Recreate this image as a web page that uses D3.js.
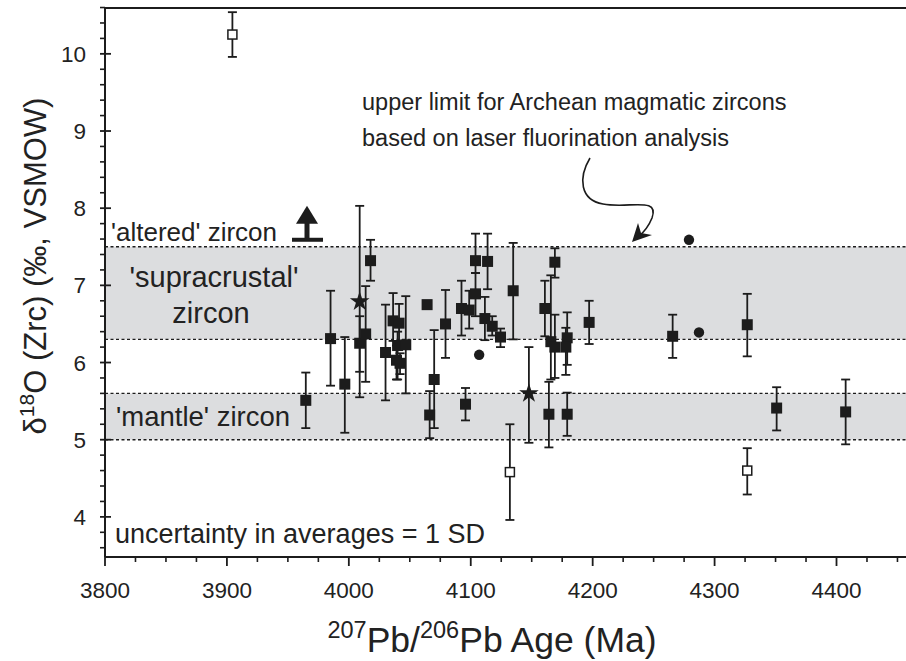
<!DOCTYPE html>
<html>
<head>
<meta charset="utf-8">
<script src="https://cdn.jsdelivr.net/npm/d3@7"></script>
<style>
  body { margin: 0; background: #fff; }
  svg text { font-family: "Liberation Sans", Arial, sans-serif; fill: #222; }
</style>
</head>
<body>
<div id="chart"></div>
<script>
// ---- data (age in Ma, d18O, +err top, -err bottom) ----
const squareAge = [3964.7, 3985, 3996.7, 4008.9, 4013.8, 4017.8, 4030.1, 4036.3, 4041.2, 4040, 4046.7, 4039.1, 4042,
  4064.2, 4079.3, 4070, 4066.3, 4095.7, 4092.4, 4098.7, 4103.9, 4103.9, 4113.8, 4111.6, 4117.6, 4124.4, 4134.8,
  4160.8, 4169, 4165.7, 4169, 4179.1, 4178, 4197.1, 4164.1, 4179.1, 4265.6, 4326.8, 4350.9, 4407.5];
const squareD18O = [5.51, 6.31, 5.72, 6.25, 6.37, 7.32, 6.13, 6.54, 6.51, 6.22, 6.23, 6.03, 5.99,
  6.75, 6.50, 5.78, 5.32, 5.46, 6.70, 6.68, 7.32, 6.89, 7.31, 6.57, 6.47, 6.33, 6.93,
  6.70, 7.30, 6.27, 6.20, 6.32, 6.20, 6.52, 5.33, 5.33, 6.34, 6.49, 5.41, 5.36];
const squareHi = [5.87, 6.93, 6.33, 6.60, 6.99, 7.59, 6.75, 6.90, 6.76, 6.40, 6.86, 6.22, 6.12,
  6.80, 6.94, 6.42, 5.63, 5.67, 7.06, 6.93, 7.67, 7.16, 7.67, 6.85, 6.60, 6.44, 7.55,
  7.06, 7.48, 7.13, 6.62, 6.65, 6.45, 6.80, 5.75, 5.61, 6.62, 6.89, 5.68, 5.78];
const squareLo = [5.15, 5.70, 5.09, 5.88, 5.75, 7.06, 5.51, 6.28, 6.22, 5.78, 5.60, 5.78, 5.85,
  6.70, 6.06, 5.15, 5.02, 5.25, 6.35, 6.44, 7.16, 6.60, 6.95, 6.29, 6.35, 6.20, 6.30,
  6.34, 7.10, 5.78, 5.80, 5.97, 5.84, 6.24, 4.90, 5.05, 6.06, 6.08, 5.12, 4.94];

const openAge = [3904.5, 4132.1, 4326.8];
const openD18O = [10.25, 4.58, 4.60];
const openHi = [10.54, 5.20, 4.89];
const openLo = [9.96, 3.96, 4.29];

const starAge = [4008.9, 4147.7];
const starD18O = [6.79, 5.60];
const starHi = [8.03, 6.20];
const starLo = [5.55, 4.96];

const circleAge = [4106.9, 4287.2, 4279];
const circleD18O = [6.10, 6.39, 7.59];

// reference fields
const bands = [{lo: 6.3, hi: 7.5}, {lo: 5.0, hi: 5.6}];
const xTicks = [3800, 3900, 4000, 4100, 4200, 4300, 4400];
const yTicks = [4, 5, 6, 7, 8, 9, 10];

// ---- layout ----
const W = 906, H = 661;
const pLeft = 105, pRight = 906, pTop = 8, pBottom = 557;

const x = d3.scaleLinear().domain([3800, 4457]).range([pLeft, pRight]);
const y = d3.scaleLinear().domain([3.48, 10.594]).range([pBottom, pTop]);

const svg = d3.select("#chart").append("svg")
    .attr("width", W).attr("height", H);

const ink = "#1c1c1c";

// bands
svg.selectAll(".band").data(bands).join("rect")
    .attr("class", "band")
    .attr("x", pLeft + 1).attr("width", pRight - pLeft)
    .attr("y", d => y(d.hi)).attr("height", d => y(d.lo) - y(d.hi))
    .attr("fill", "#dcdddf");

const bandLines = bands.flatMap(d => [d.lo, d.hi]);
svg.selectAll(".bline").data(bandLines).join("line")
    .attr("class", "bline")
    .attr("x1", pLeft).attr("x2", pRight)
    .attr("y1", d => y(d)).attr("y2", d => y(d))
    .attr("stroke", ink).attr("stroke-width", 1.4)
    .attr("stroke-dasharray", "3,2.5");

// axes frame
svg.append("line").attr("x1", pLeft).attr("x2", pLeft).attr("y1", pTop).attr("y2", pBottom)
    .attr("stroke", ink).attr("stroke-width", 2);
svg.append("line").attr("x1", pLeft).attr("x2", pRight).attr("y1", pBottom).attr("y2", pBottom)
    .attr("stroke", ink).attr("stroke-width", 2);
svg.append("line").attr("x1", pLeft).attr("x2", pRight).attr("y1", pTop).attr("y2", pTop)
    .attr("stroke", ink).attr("stroke-width", 2);

// y ticks
const yMinor = d3.range(36, 107, 2).map(v => v / 10).filter(v => !yTicks.includes(v));
svg.selectAll(".ymin").data(yMinor).join("line")
    .attr("x1", pLeft - 5).attr("x2", pLeft)
    .attr("y1", d => y(d)).attr("y2", d => y(d))
    .attr("stroke", ink).attr("stroke-width", 1.6);
svg.selectAll(".ymaj").data(yTicks).join("line")
    .attr("x1", pLeft - 5).attr("x2", pLeft + 6)
    .attr("y1", d => y(d)).attr("y2", d => y(d))
    .attr("stroke", ink).attr("stroke-width", 1.8);
svg.selectAll(".ylab").data(yTicks).join("text")
    .attr("x", pLeft - 19).attr("y", d => y(d)).attr("dy", "0.36em")
    .attr("text-anchor", "end").attr("font-size", 22.5)
    .text(d => d);

// x ticks
const xMinor = d3.range(3825, 4456, 25).filter(v => !xTicks.includes(v));
svg.selectAll(".xmin").data(xMinor).join("line")
    .attr("x1", d => x(d)).attr("x2", d => x(d))
    .attr("y1", pBottom).attr("y2", pBottom + 5)
    .attr("stroke", ink).attr("stroke-width", 1.6);
svg.selectAll(".xmaj").data(xTicks).join("line")
    .attr("x1", d => x(d)).attr("x2", d => x(d))
    .attr("y1", pBottom).attr("y2", pBottom + 9)
    .attr("stroke", ink).attr("stroke-width", 1.8);
svg.selectAll(".xlab").data(xTicks).join("text")
    .attr("x", d => x(d)).attr("y", 598)
    .attr("text-anchor", "middle").attr("font-size", 22.5)
    .text(d => d);

// axis titles
const xt = svg.append("text").attr("x", 492).attr("y", 652)
    .attr("text-anchor", "middle").attr("font-size", 35.5);
xt.append("tspan").attr("font-size", 23.5).attr("dy", -14).text("207");
xt.append("tspan").attr("dy", 14).text("Pb/");
xt.append("tspan").attr("font-size", 23.5).attr("dy", -14).text("206");
xt.append("tspan").attr("dy", 14).text("Pb Age (Ma)");

const yt = svg.append("text")
    .attr("transform", "translate(46," + 266 + ") rotate(-90)")
    .attr("text-anchor", "middle").attr("font-size", 31);
yt.append("tspan").text("δ");
yt.append("tspan").attr("font-size", 21).attr("dy", -12).text("18");
yt.append("tspan").attr("dy", 12).text("O (Zrc) (‰, VSMOW)");

// labels
svg.append("text").attr("x", 111).attr("y", 241).attr("font-size", 26).text("'altered' zircon");
svg.append("text").attr("x", 214).attr("y", 287).attr("text-anchor", "middle").attr("font-size", 29).text("'supracrustal'");
svg.append("text").attr("x", 211).attr("y", 323).attr("text-anchor", "middle").attr("font-size", 29).text("zircon");
svg.append("text").attr("x", 116).attr("y", 426).attr("font-size", 27.5).text("'mantle' zircon");
svg.append("text").attr("x", 115).attr("y", 543).attr("font-size", 27).text("uncertainty in averages = 1 SD");
svg.append("text").attr("x", 362).attr("y", 110).attr("font-size", 23.5).text("upper limit for Archean magmatic zircons");
svg.append("text").attr("x", 362).attr("y", 146).attr("font-size", 23.5).text("based on laser fluorination analysis");

// upward arrow symbol above the altered line
const ax = 307, ay = y(7.5) - 6;
svg.append("rect").attr("x", ax - 15).attr("y", ay - 3).attr("width", 31).attr("height", 4).attr("fill", ink);
svg.append("rect").attr("x", ax - 2.5).attr("y", ay - 18).attr("width", 5).attr("height", 16).attr("fill", ink);
svg.append("path").attr("d", `M${ax},${ay - 35} L${ax + 11},${ay - 17} L${ax - 11},${ay - 17} Z`).attr("fill", ink);

// curvy arrow to the 7.5 line
svg.append("path")
    .attr("d", "M590,158 C578,178 580,200 603,204 C628,209 660,196 652,218 C648,228 643,233 638,237")
    .attr("fill", "none").attr("stroke", ink).attr("stroke-width", 1.6);
svg.append("path").attr("d", "M632,242 L638,223 L641,233 L652,235 Z").attr("fill", ink);

// ---- data marks ----
function errorBars(cls, ages, hi, lo) {
  const idx = d3.range(ages.length);
  const g = svg.append("g").attr("stroke", ink).attr("stroke-width", 1.8);
  g.selectAll("." + cls + "v").data(idx).join("line")
      .attr("x1", i => x(ages[i])).attr("x2", i => x(ages[i]))
      .attr("y1", i => y(hi[i])).attr("y2", i => y(lo[i]));
  g.selectAll("." + cls + "t").data(idx).join("line")
      .attr("x1", i => x(ages[i]) - 4.5).attr("x2", i => x(ages[i]) + 4.5)
      .attr("y1", i => y(hi[i])).attr("y2", i => y(hi[i]));
  g.selectAll("." + cls + "b").data(idx).join("line")
      .attr("x1", i => x(ages[i]) - 4.5).attr("x2", i => x(ages[i]) + 4.5)
      .attr("y1", i => y(lo[i])).attr("y2", i => y(lo[i]));
}
errorBars("sq", squareAge, squareHi, squareLo);
errorBars("op", openAge, openHi, openLo);
errorBars("st", starAge, starHi, starLo);

svg.selectAll(".sq").data(d3.range(squareAge.length)).join("rect")
    .attr("x", i => x(squareAge[i]) - 5.5).attr("y", i => y(squareD18O[i]) - 5.5)
    .attr("width", 11).attr("height", 11).attr("fill", ink);

svg.selectAll(".op").data(d3.range(openAge.length)).join("rect")
    .attr("x", i => x(openAge[i]) - 4.5).attr("y", i => y(openD18O[i]) - 4.5)
    .attr("width", 9).attr("height", 9).attr("fill", "#fff").attr("stroke", ink).attr("stroke-width", 1.5);

const star = d3.symbol().type(d3.symbolStar).size(120);
svg.selectAll(".st").data(d3.range(starAge.length)).join("path")
    .attr("transform", i => `translate(${x(starAge[i])},${y(starD18O[i])})`)
    .attr("d", star).attr("fill", ink);

svg.selectAll(".ci").data(d3.range(circleAge.length)).join("circle")
    .attr("cx", i => x(circleAge[i])).attr("cy", i => y(circleD18O[i]))
    .attr("r", 5.2).attr("fill", ink);
</script>
</body>
</html>
